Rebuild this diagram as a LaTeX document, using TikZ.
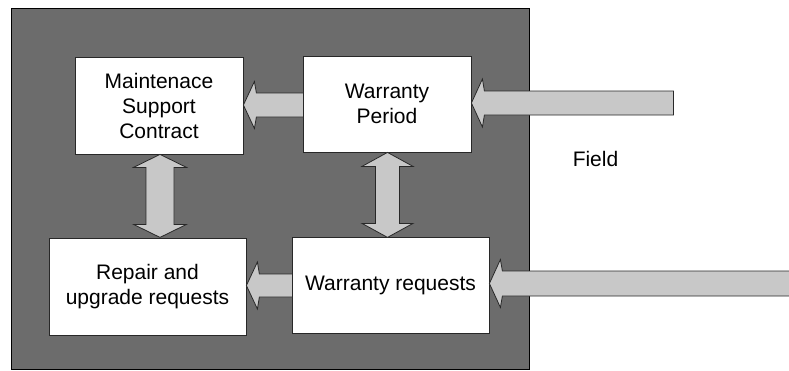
\documentclass[tikz,border=0pt]{standalone}
\usepackage{fontspec}
\setmainfont{Liberation Sans}
\usetikzlibrary{calc}
\definecolor{panelgray}{RGB}{108,108,108}
\definecolor{arrowgray}{RGB}{200,200,200}
\definecolor{edgegray}{RGB}{40,40,40}
\tikzset{
  box/.style={draw=edgegray, line width=0.8pt, fill=white, inner sep=0pt,
    align=center, font=\fontsize{21}{25}\selectfont},
  bigarrow/.style={draw=edgegray, line width=0.8pt, fill=arrowgray, line join=miter},
  label/.style={font=\fontsize{21}{25}\selectfont, inner sep=0pt}
}
% left-pointing block arrow: tip, length, half shaft width, half head width
\newcommand\leftblock[4]{%
  \draw[bigarrow] #1 -- ++(11,-#4) -- ++(2,{#4-#3}) -- ++({#2-13},0)
    -- ++(0,{2*#3}) -- ++({13-#2},0) -- ++(-2,{#4-#3}) -- cycle;}
% vertical two-headed block arrow: top tip, length, half shaft, half head, head length
\newcommand\vdouble[5]{%
  \draw[bigarrow] #1 -- ++(-#4,#5) -- ++({#4-#3},0) -- ++(0,{#2-2*#5})
    -- ++({#3-#4},0) -- ++(#4,#5) -- ++(#4,-#5) -- ++({#3-#4},0)
    -- ++(0,{2*#5-#2}) -- ++({#4-#3},0) -- cycle;}
\begin{document}
\begin{tikzpicture}[x=1pt,y=-1pt]
  \useasboundingbox (0,0) rectangle (789,370);
  % background panel
  \draw[fill=panelgray, draw=black, line width=0.9pt] (11,8) rectangle (529,369);
  % boxes
  \node[box, minimum width=168pt, minimum height=97pt] (msc) at (159,105.5)
    {Maintenace\\Support\\Contract};
  \node[box, minimum width=168pt, minimum height=96pt] (wp) at (387,104)
    {Warranty\\Period};
  \node[box, minimum width=197pt, minimum height=97pt] (rep) at (147.5,286.5)
    {Repair and\\upgrade requests};
  \node[box, minimum width=197pt, minimum height=96pt] (wr) at (390.5,285)
    {Warranty requests};
  \node[label] (field) at (595.5,159) {Field};
  % horizontal arrows
  \leftblock{($(wp.east)+(0,-1)$)}{202}{12}{24}
  \leftblock{($(msc.east)+(0,-0.5)$)}{60}{12}{23.5}
  \leftblock{($(wr.east)+(0,-1.5)$)}{310}{12.5}{24}
  \leftblock{($(rep.east)+(0,-1)$)}{46}{11.5}{23.5}
  % vertical two-headed arrows
  \vdouble{($(msc.south)+(1,0)$)}{83}{14}{26.5}{13}
  \vdouble{($(wp.south)+(0.5,0)$)}{85}{12}{25.5}{14}
\end{tikzpicture}
\end{document}
